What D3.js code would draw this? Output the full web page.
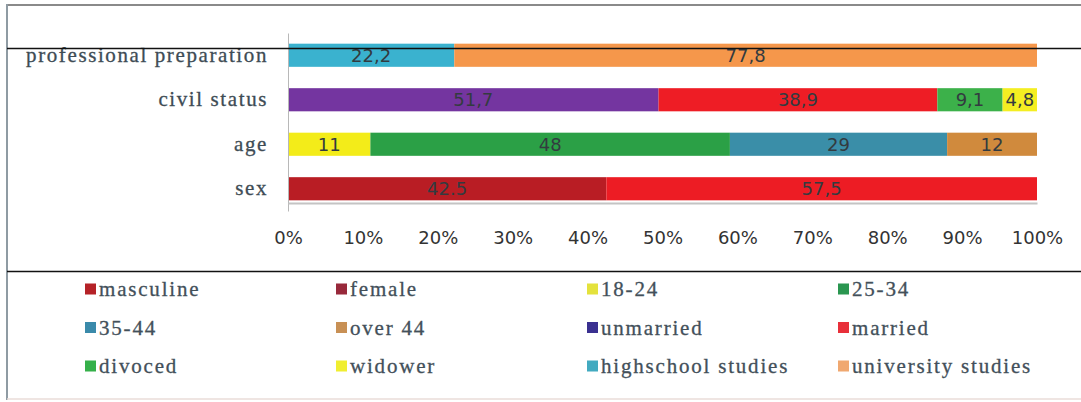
<!DOCTYPE html>
<html>
<head>
<meta charset="utf-8">
<script src="https://cdn.jsdelivr.net/npm/d3@7"></script>
<style>
  body { margin: 0; background: #fff; }
  svg { display: block; }
</style>
</head>
<body>
<svg></svg>
<script>
// chart data, top row first
var categories = ["professional preparation", "civil status", "age", "sex"];
var sexValues = [42.5, 57.5];
var ageValues = [11, 48, 29, 12];
var civilValues = [51.7, 38.9, 9.1, 4.8];
var profValues = [22.2, 77.8];
var sexLabels = ["42.5", "57,5"];
var ageLabels = ["11", "48", "29", "12"];
var civilLabels = ["51,7", "38,9", "9,1", "4,8"];
var profLabels = ["22,2", "77,8"];
var legendNames = ["masculine", "female", "18-24", "25-34", "35-44", "over 44",
    "unmarried", "married", "divoced", "widower", "highschool studies", "university studies"];
var tickValues = [0, 0.1, 0.2, 0.3, 0.4, 0.5, 0.6, 0.7, 0.8, 0.9, 1];

var width = 1081;
var height = 402;

var barColors = ["#b91d24", "#ed1c24", "#f3ec19", "#2ba046", "#3a8ea8", "#d08a3d",
    "#7435a0", "#ee1d25", "#3cb14a", "#f4ee22", "#3ab2cf", "#f5974b"];
var legendColors = ["#b52227", "#98293b", "#e4e23c", "#2a9650", "#3a8aaa", "#c89055",
    "#3a3090", "#e8303a", "#35b04a", "#f0ee30", "#42aac0", "#f0a870"];

var rows = [
    {cat: "professional preparation", values: profValues, labels: profLabels, start: 10},
    {cat: "civil status", values: civilValues, labels: civilLabels, start: 6},
    {cat: "age", values: ageValues, labels: ageLabels, start: 2},
    {cat: "sex", values: sexValues, labels: sexLabels, start: 0}
];

var svg = d3.select("svg")
    .attr("width", width)
    .attr("height", height);

var x = d3.scaleLinear()
    .domain([0, 1])
    .range([288, 1037]);

var y = d3.scaleBand()
    .domain(categories)
    .range([33, 211])
    .paddingInner(0.48)
    .paddingOuter(0.24);

// outer frame
svg.append("line").attr("x1", 7).attr("x2", width).attr("y1", 5).attr("y2", 5)
    .attr("stroke", "#8a8a8a").attr("stroke-width", 2);
svg.append("line").attr("x1", 7).attr("x2", 7).attr("y1", 4).attr("y2", 400)
    .attr("stroke", "#8f9ba3").attr("stroke-width", 2);
svg.append("line").attr("x1", 7).attr("x2", width).attr("y1", 399).attr("y2", 399)
    .attr("stroke", "#eadcd8").attr("stroke-width", 1.5);

// bars
rows.forEach(function(r){
    var total = d3.sum(r.values);
    var acc = 0;
    var segs = r.values.map(function(v, i){
        var s = {x0: acc / total, x1: (acc + v) / total, label: r.labels[i], color: barColors[r.start + i]};
        acc += v;
        return s;
    });
    var g = svg.append("g");
    g.selectAll("rect")
        .data(segs)
        .enter()
        .append("rect")
        .attr("x", d => x(d.x0))
        .attr("width", d => x(d.x1) - x(d.x0))
        .attr("y", y(r.cat))
        .attr("height", y.bandwidth())
        .attr("fill", d => d.color);
    g.selectAll("text")
        .data(segs)
        .enter()
        .append("text")
        .attr("x", d => (x(d.x0) + x(d.x1)) / 2)
        .attr("y", y(r.cat) + y.bandwidth() / 2)
        .attr("dy", "0.36em")
        .attr("text-anchor", "middle")
        .style("font-family", "'DejaVu Sans', sans-serif")
        .style("font-size", "18px")
        .attr("fill", "#333b40")
        .text(d => d.label);
});

// axes
var yAxis = d3.axisLeft(y).tickSize(0).tickPadding(20);
var yg = svg.append("g")
    .attr("transform", "translate(288,0)")
    .call(yAxis);
yg.select(".domain").attr("stroke", "#b8b8b8");
yg.selectAll("text")
    .style("font-family", "'Liberation Serif', 'Times New Roman', serif")
    .style("font-size", "21px")
    .style("letter-spacing", "1.6px")
    .attr("fill", "#3e4c55")
    .attr("stroke", "#3e4c55")
    .attr("stroke-width", 0.3);

var xAxis = d3.axisBottom(x)
    .tickValues(tickValues)
    .tickFormat(d3.format(".0%"))
    .tickSize(0)
    .tickPadding(28);
var xg = svg.append("g")
    .attr("transform", "translate(0,203)")
    .call(xAxis);
xg.select(".domain").attr("stroke", "#c4c4c4").attr("stroke-width", 2);
xg.selectAll("text")
    .style("font-family", "'DejaVu Sans', sans-serif")
    .style("font-size", "18px")
    .attr("fill", "#333");

// the two black rules
svg.append("line").attr("x1", 7).attr("x2", width).attr("y1", 48.5).attr("y2", 48.5)
    .attr("stroke", "#111").attr("stroke-width", 1.3);
svg.append("line").attr("x1", 7).attr("x2", width).attr("y1", 271.5).attr("y2", 271.5)
    .attr("stroke", "#111").attr("stroke-width", 1.3);

// legend
var legend = svg.append("g")
    .selectAll("g")
    .data(legendNames)
    .enter()
    .append("g")
    .attr("transform", (d, i) => "translate(" + (85 + (i % 4) * 251) + "," + (289 + Math.floor(i / 4) * 38.5) + ")");
legend.append("rect")
    .attr("x", 0)
    .attr("y", -5.5)
    .attr("width", 11)
    .attr("height", 11)
    .attr("fill", (d, i) => legendColors[i]);
legend.append("text")
    .attr("x", 14)
    .attr("dy", "0.35em")
    .style("font-family", "'Liberation Serif', 'Times New Roman', serif")
    .style("font-size", "21px")
    .style("letter-spacing", "1.8px")
    .attr("fill", "#43505a")
    .attr("stroke", "#43505a")
    .attr("stroke-width", 0.3)
    .text(d => d);
</script>
</body>
</html>
